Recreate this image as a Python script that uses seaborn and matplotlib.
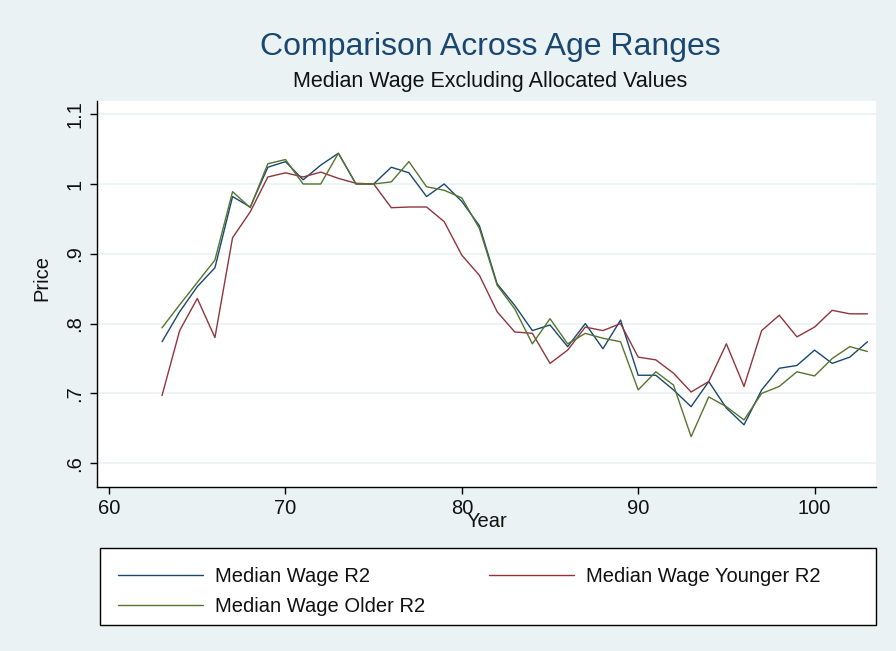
import numpy as np
import pandas as pd
import matplotlib
matplotlib.use('Agg')
import matplotlib.pyplot as plt
import seaborn as sns

years = list(range(63, 104))

wage_r2 = [0.774, 0.817, 0.853, 0.880, 0.982, 0.967, 1.024, 1.032, 1.006, 1.027,
           1.044, 1.000, 1.000, 1.024, 1.016, 0.982, 1.000, 0.975, 0.940, 0.857,
           0.826, 0.790, 0.798, 0.767, 0.800, 0.764, 0.805, 0.726, 0.726, 0.705,
           0.681, 0.717, 0.679, 0.655, 0.705, 0.736, 0.740, 0.762, 0.743, 0.752,
           0.774]

wage_younger = [0.697, 0.790, 0.836, 0.780, 0.923, 0.960, 1.010, 1.016, 1.010, 1.017,
                1.008, 1.001, 1.000, 0.966, 0.967, 0.967, 0.946, 0.898, 0.869, 0.817,
                0.788, 0.786, 0.743, 0.762, 0.795, 0.790, 0.800, 0.752, 0.748, 0.729,
                0.702, 0.717, 0.771, 0.710, 0.790, 0.812, 0.781, 0.795, 0.819, 0.814,
                0.814]

wage_older = [0.794, 0.827, 0.859, 0.891, 0.989, 0.966, 1.029, 1.035, 1.000, 1.000,
              1.044, 1.000, 1.000, 1.003, 1.032, 0.996, 0.991, 0.980, 0.936, 0.855,
              0.821, 0.771, 0.807, 0.771, 0.786, 0.779, 0.774, 0.705, 0.731, 0.712,
              0.638, 0.695, 0.681, 0.662, 0.700, 0.710, 0.731, 0.725, 0.750, 0.767,
              0.760]

series_names = ['Median Wage R2', 'Median Wage Younger R2', 'Median Wage Older R2']
series_colors = ['#1a476f', '#90353b', '#55752f']

df = pd.DataFrame({
    'Year': years * 3,
    'Price': wage_r2 + wage_younger + wage_older,
    'series': [series_names[0]] * len(years) + [series_names[1]] * len(years) + [series_names[2]] * len(years),
})

sns.set_theme(style='white')
plt.rcParams['font.family'] = ['Liberation Sans', 'DejaVu Sans']

bg = '#eaf2f3'
W, H = 896, 651
fig = plt.figure(figsize=(W / 100, H / 100), dpi=100, facecolor=bg)
ax = fig.add_axes([0.108, 0.252, 0.870, 0.593])
ax.set_facecolor('white')

sns.lineplot(data=df, x='Year', y='Price', hue='series', hue_order=series_names,
             palette=series_colors, linewidth=1.0, ax=ax, legend=False)

ax.set_xlim(59.3, 103.5)
ax.set_ylim(0.566, 1.119)
ax.set_xticks([60, 70, 80, 90, 100])
ax.set_yticks([0.6, 0.7, 0.8, 0.9, 1.0, 1.1])
ax.set_yticklabels(['.6', '.7', '.8', '.9', '1', '1.1'], rotation=90, va='center')
ax.tick_params(axis='both', direction='out', length=5, width=1, color='black',
               labelsize=14.5, labelcolor='#111111', bottom=True, left=True, pad=4)
ax.grid(axis='y', color=bg, linewidth=1.2)
for s in ['top', 'right']:
    ax.spines[s].set_visible(False)
for s in ['left', 'bottom']:
    ax.spines[s].set_color('black')
    ax.spines[s].set_linewidth(1)

ax.set_xlabel('Year', fontsize=14.5, color='#111111')
ax.set_ylabel('Price', fontsize=14.5, color='#111111')
ax.xaxis.set_label_coords(0.5, -0.066)
ax.yaxis.set_label_coords(-0.058, 0.54)

fig.text(0.547, 0.928, 'Comparison Across Age Ranges', ha='center', va='center',
         fontsize=23, color='#1a476f')
fig.text(0.547, 0.875, 'Median Wage Excluding Allocated Values', ha='center', va='center',
         fontsize=15.5, color='#111111')

# legend box drawn separately so it spans the full plot width like the original
fig.patches.append(plt.Rectangle((100 / W, 1 - 625 / H), 776 / W, 77 / H,
                                 transform=fig.transFigure, facecolor='white',
                                 edgecolor='black', linewidth=1, zorder=0))

# legend: column-major fill, so reorder to get R2 / Younger on the first row
handles = [plt.Line2D([], [], color=c, linewidth=1.0) for c in series_colors]
order = [0, 2, 1]
leg = fig.legend([handles[i] for i in order], [series_names[i] for i in order],
                 ncol=2, loc='upper left', bbox_to_anchor=(118 / W, 1 - 567 / H),
                 fontsize=14.5, handlelength=4.2, handletextpad=0.6, columnspacing=3.2,
                 frameon=False, borderpad=0, borderaxespad=0, labelspacing=0.55)
for t in leg.get_texts():
    t.set_color('#111111')

fig.savefig('out.png', dpi=100, facecolor=bg)
